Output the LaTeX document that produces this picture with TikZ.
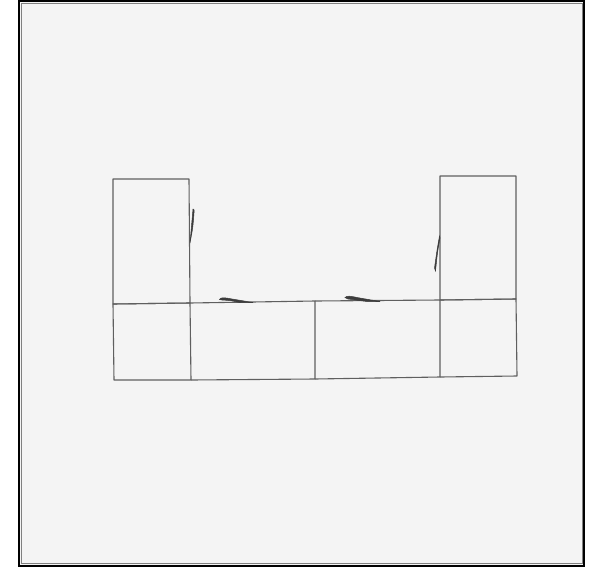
\documentclass[tikz,border=0pt]{standalone}
\definecolor{bgc}{RGB}{244,244,244}
\definecolor{edge}{RGB}{95,95,95}
\definecolor{flap}{RGB}{60,60,60}
\begin{document}
\begin{tikzpicture}[x=1pt,y=-1pt,
  netline/.style={draw=edge,line width=1.1pt,line join=round},
  flapfill/.style={fill=flap,draw=flap,line width=0.5pt}]
\useasboundingbox (0,0) rectangle (593,567);
\fill[white] (0,0) rectangle (593,567);
\draw[fill=bgc,line width=2pt] (19,1.5) rectangle (584,565.5);
\draw[gray,line width=0.6pt] (21,3.5) rectangle (582,563.5);
% left tall panel and bottom-left square
\draw[netline] (113,179) -- (189,179) -- (190,303) -- (113,304) -- cycle;
\draw[netline] (113,304) -- (190,303) -- (191,380) -- (114,380) -- cycle;
% middle panels
\draw[netline] (190,303) -- (315,301) -- (315,379) -- (191,380);
\draw[netline] (315,301) -- (440,300) -- (440,377) -- (315,379);
% right tall panel and bottom-right square
\draw[netline] (440,176) -- (516,176) -- (516,299) -- (440,300) -- cycle;
\draw[netline] (440,300) -- (516,299) -- (517,376) -- (440,377);
% small flaps
\filldraw[flapfill] (190,243) .. controls (191.5,226) .. (193,209) -- (194.2,210)
  .. controls (193,227) .. (190,243) -- cycle;
\filldraw[flapfill] (219.5,299.5) .. controls (221,297) and (224,297.5) .. (232,299)
  .. controls (242,301) .. (253,302.5) -- (240,302.5) .. controls (230,300.5) .. (222,300) -- cycle;
\filldraw[flapfill] (345,297.5) .. controls (347,295.5) and (350,296) .. (357,297.5)
  .. controls (368,300) .. (380,301.5) -- (367,301.5) .. controls (357,299.5) .. (348,299) -- cycle;
\filldraw[flapfill] (439.5,236) .. controls (437,250) .. (434.5,268) -- (435.5,271)
  .. controls (437.5,252) .. (440,238) -- cycle;
\end{tikzpicture}
\end{document}
